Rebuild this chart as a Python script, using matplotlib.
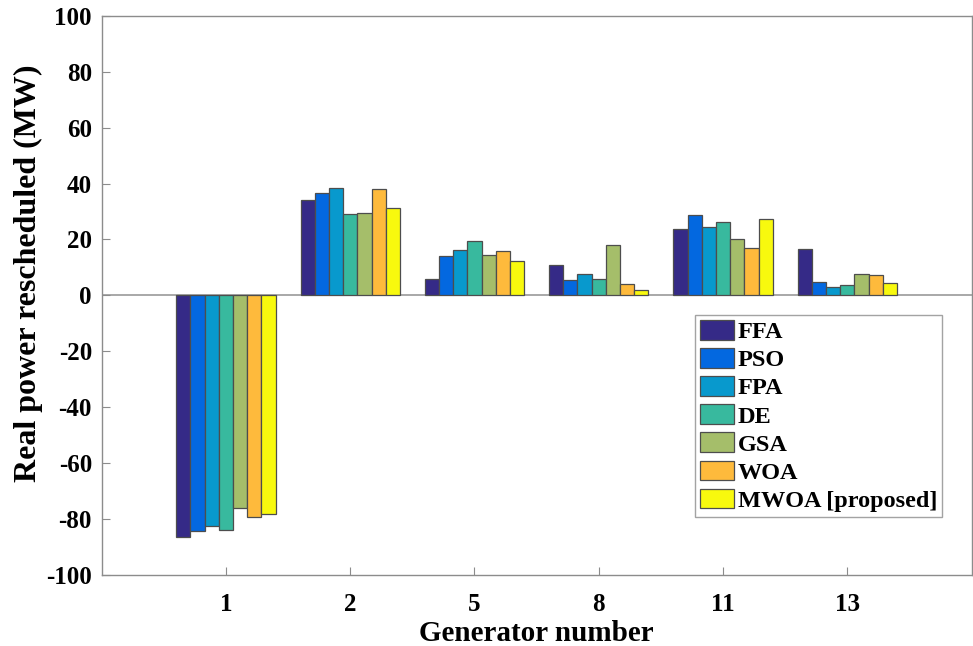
import numpy as np
import matplotlib.pyplot as plt

# generators on the x axis
generators = ["1", "2", "5", "8", "11", "13"]

# rescheduled real power (MW) per method
ffa  = [-86.3, 34.2, 6.0, 11.0, 23.9, 16.6]
pso  = [-84.4, 36.8, 14.0, 5.6, 28.6, 4.7]
fpa  = [-82.5, 38.4, 16.2, 7.6, 24.3, 3.0]
de   = [-83.8, 29.2, 19.4, 5.8, 26.4, 3.7]
gsa  = [-76.0, 29.5, 14.6, 18.0, 20.3, 7.7]
woa  = [-79.2, 38.1, 15.8, 4.0, 17.0, 7.2]
mwoa = [-78.1, 31.2, 12.3, 2.0, 27.4, 4.5]

methods = ["FFA", "PSO", "FPA", "DE", "GSA", "WOA", "MWOA [proposed]"]
colors = ["#352a87", "#0368e0", "#0899cd", "#38b99e", "#a5be6a", "#feba3c", "#f8f90e"]

series = [ffa, pso, fpa, de, gsa, woa, mwoa]

plt.rcParams['font.family'] = ['Liberation Serif', 'DejaVu Serif']
plt.rcParams['font.weight'] = 'bold'
plt.rcParams['axes.unicode_minus'] = False

fig = plt.figure(figsize=(9.73, 6.46), dpi=100)
ax = fig.add_axes([0.1045, 0.110, 0.894, 0.8655])

x = np.arange(1, len(generators) + 1)
n = len(series)
group_w = min(0.8, n / (n + 1.5))
bw = group_w / n
for i, (vals, c, name) in enumerate(zip(series, colors, methods)):
    offs = -group_w / 2 + bw * (i + 0.5)
    ax.bar(x + offs, vals, width=bw, color=c, edgecolor="#4d4d4d",
           linewidth=0.9, label=name)

ax.axhline(0, color="#9a9a9a", linewidth=1.2, zorder=0.5)

ax.set_xlim(0, 7)
ax.set_ylim(-100, 100)
ax.set_xticks(x)
ax.set_xticklabels(generators)
ax.set_yticks(np.arange(-100, 101, 20))

for sp in ax.spines.values():
    sp.set_color("#8c8c8c")
    sp.set_linewidth(1.0)
ax.tick_params(axis="both", which="both", direction="in", length=6,
               color="#8c8c8c", labelsize=18)
ax.tick_params(axis="x", top=False, pad=13)
ax.tick_params(axis="y", right=False, pad=7)
for lab in ax.get_xticklabels() + ax.get_yticklabels():
    lab.set_fontweight("bold")

ax.set_xlabel("Generator number", fontsize=21, fontweight="bold", labelpad=3)
ax.set_ylabel("Real power rescheduled (MW)", fontsize=23, fontweight="bold")
ax.yaxis.set_label_coords(-0.068, 0.54)

leg = ax.legend(loc="lower right", bbox_to_anchor=(0.966, 0.104), fontsize=17.5,
                frameon=True, fancybox=False, edgecolor="#8c8c8c",
                handlelength=1.4, handleheight=0.87, handletextpad=0.17,
                labelspacing=0.2, borderpad=0.2, borderaxespad=0)
leg.get_frame().set_linewidth(1.0)
for t in leg.get_texts():
    t.set_fontweight("bold")

fig.savefig("out.png", dpi=100)
